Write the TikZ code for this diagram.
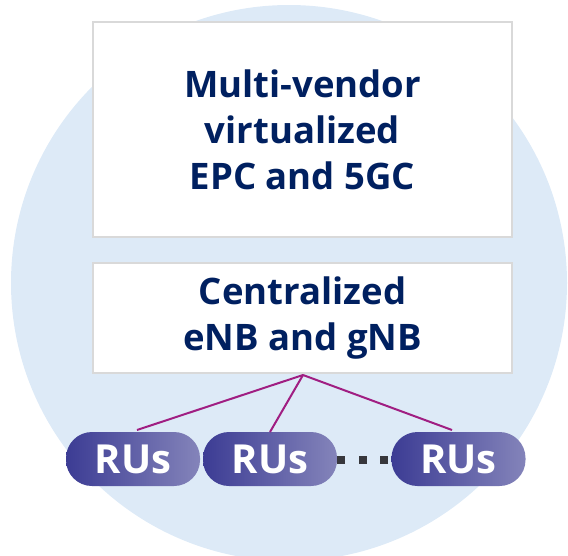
\documentclass[tikz,border=0pt]{standalone}
\usepackage{fontspec}
\setmainfont{Open Sans}
\usepackage{xcolor}
\usetikzlibrary{calc}
\definecolor{bgblue}{RGB}{221,234,247}
\definecolor{navy}{RGB}{0,32,96}
\definecolor{boxgray}{RGB}{217,217,217}
\definecolor{linkpink}{RGB}{160,30,130}
\definecolor{ruDark}{RGB}{60,60,148}
\definecolor{ruLight}{RGB}{132,132,186}
\definecolor{dotgray}{RGB}{55,55,60}
\tikzset{
    box/.style={draw=boxgray, line width=2pt, fill=white, font=\bfseries\fontsize{36.5}{46}\selectfont, text=navy, align=center},
    ru/.style={rounded corners=26pt, left color=ruDark, right color=ruLight, draw=none, minimum width=134pt, minimum height=54pt, inner sep=0pt, font=\bfseries\fontsize{40}{44}\selectfont, text=white},
    link/.style={draw=linkpink, line width=2pt}}

\begin{document}
\begin{tikzpicture}[x=1pt,y=-1pt]
\useasboundingbox (0,0) rectangle (568,555);
\begin{scope}
\clip (0,0) rectangle (568,555);
\fill[bgblue] (289,283) circle (278);
\end{scope}
% core and RAN boxes
\node[box, minimum width=419pt, minimum height=215pt] (core) at (302.5,129.5) {Multi-vendor\\virtualized\\EPC and 5GC};
\node[box, minimum width=419pt, minimum height=110pt] (ran) at (302.5,318) {Centralized\\eNB and gNB};
\coordinate (hub) at (303,375);
% RUs
\node[ru] (ru1) at (133,459) {RUs};
\node[ru] (ru2) at (270,459) {\raisebox{-3pt}{RUs}};
\node[ru] (ru3) at (458.5,459) {RUs};
\foreach \x in {341,362.5,384}
  \fill[dotgray] ($(\x,460)+(-4,-4)$) rectangle ++(8,8);
\draw[link] (hub) -- (137,430);
\draw[link] (hub) -- (270,432);
\draw[link] (hub) -- (452,430);
\end{tikzpicture}
\end{document}
